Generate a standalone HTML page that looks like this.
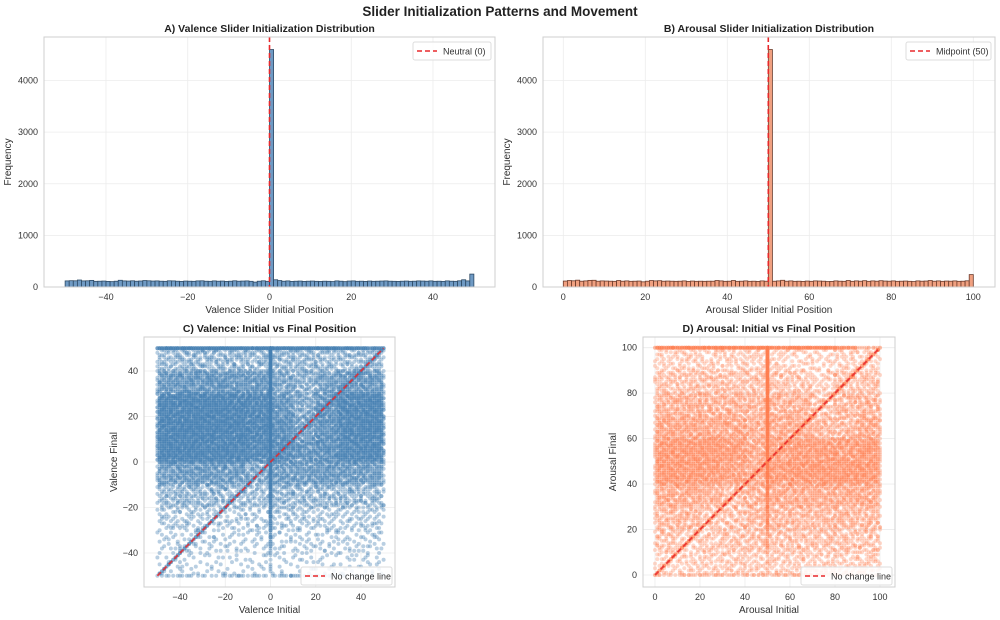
<!DOCTYPE html>
<html><head><meta charset="utf-8"><style>
body{margin:0;background:#fff}
svg{display:block;font-family:"Liberation Sans",Arial,sans-serif}
</style></head><body>
<svg id="fig" width="1000" height="620" viewBox="0 0 1000 620">
<text x="500" y="16" text-anchor="middle" font-size="13.5" font-weight="bold" fill="#222">Slider Initialization Patterns and Movement</text>
</svg>
<script>
// ---- Data ----
const histA = [118,122,120,135,118,120,128,110,112,115,108,104,112,130,118,115,120,112,116,125,120,115,118,112,110,120,118,112,108,115,112,110,118,120,112,110,118,112,115,108,112,120,112,115,118,110,95,112,120,110,
4600,140,125,112,118,108,112,115,108,112,115,110,108,112,110,105,118,112,104,115,118,110,112,108,115,110,112,115,118,112,110,108,112,115,110,112,118,115,112,118,110,112,108,118,112,110,120,140,118,250];
const histB = [115,125,120,132,112,118,128,130,112,118,115,112,110,125,112,118,110,112,115,100,112,125,118,122,112,115,112,110,112,118,108,115,110,112,110,112,112,125,118,110,112,125,110,112,118,110,112,108,118,112,
4600,112,118,130,112,118,110,112,108,115,110,118,115,112,105,108,118,112,110,125,110,118,112,122,110,118,112,122,115,112,118,110,112,115,110,105,118,112,115,125,112,118,110,115,112,118,110,112,120,240];
const yTicksHist = [0,1000,2000,3000,4000];
const xTicksA = [-40,-20,0,20,40];
const xTicksB = [0,20,40,60,80,100];
// scatter densities: rows from top (highest final) to bottom, 10 columns of initial
const densC = [
 [55,60,60,58,55,60,60,55,50,55],
 [120,130,130,125,120,90,70,100,125,125],
 [210,220,220,210,190,130,80,140,200,210],
 [220,225,220,220,200,150,100,140,200,210],
 [220,220,210,210,180,170,130,150,190,200],
 [110,115,120,110,70,110,110,120,115,110],
 [55,60,58,50,45,60,55,60,60,55],
 [30,30,25,25,25,30,30,28,30,30],
 [18,20,18,18,15,20,18,20,20,22],
 [12,14,12,12,12,12,14,12,14,15]];
const topLineC = [40,40,40,40,40,40,40,40,35,30];
const botLineC = [5,6,4,8,6,8,6,5,4,3];
const colC = 500, diagC = 260;
const densD = [
 [35,40,35,35,40,30,30,25,35,35],
 [55,55,60,55,55,55,50,35,55,55],
 [80,85,80,80,75,80,80,50,70,80],
 [105,105,100,100,85,95,95,70,70,100],
 [145,145,145,135,95,110,135,135,130,140],
 [145,145,135,120,95,135,145,145,145,145],
 [95,95,85,60,80,95,95,95,95,95],
 [70,70,45,55,70,70,70,70,70,70],
 [55,40,45,55,55,55,55,55,55,55],
 [28,35,40,40,40,40,40,40,40,40]];
const topLineD = [35,40,40,40,40,35,40,40,25,10];
const botLineD = [6,8,8,8,8,8,10,6,4,2];
const colD = 450, diagD = 300;
const yTicksC = [-40,-20,0,20,40], xTicksC = [-40,-20,0,20,40];
const ticksD = [0,20,40,60,80,100];

// ---- helpers ----
const svg = document.getElementById('fig');
const NS = 'http://www.w3.org/2000/svg';
function mk(tag, attrs, parent){const e=document.createElementNS(NS,tag);for(const k in attrs)e.setAttribute(k,attrs[k]);(parent||svg).appendChild(e);return e;}
function halton(i,b){let f=1,r=0;while(i>0){f/=b;r+=f*(i%b);i=Math.floor(i/b);}return r;}

function axesFrame(g,L,T,R,B,title,xlabel,ylabel,xs,ys,xt,yt,name){
  mk('rect',{x:L,y:T,width:R-L,height:B-T,fill:'#fff',stroke:'none'},g);
  xt.forEach(v=>{const l=mk('line',{x1:xs(v),x2:xs(v),y1:T,y2:B,stroke:'#ececec','stroke-width':0.8},g);
    
    const t=mk('text',{x:xs(v),y:B+13,'text-anchor':'middle','font-size':9,fill:'#333'},g);t.textContent=v<0?'−'+(-v):v;
    });
  yt.forEach(v=>{const l=mk('line',{x1:L,x2:R,y1:ys(v),y2:ys(v),stroke:'#ececec','stroke-width':0.8},g);
    
    const t=mk('text',{x:L-6,y:ys(v)+3,'text-anchor':'end','font-size':9,fill:'#333'},g);t.textContent=v<0?'−'+(-v):v;
    });
  const tt=mk('text',{x:(L+R)/2,y:T-5,'text-anchor':'middle','font-size':10.5,'font-weight':'bold',fill:'#222'},g);tt.textContent=title;
  
  const xl=mk('text',{x:(L+R)/2,y:B+26,'text-anchor':'middle','font-size':10,fill:'#333'},g);xl.textContent=xlabel;
  
  const yx=ylabel.x, yl=mk('text',{x:yx,y:(T+B)/2,'text-anchor':'middle','font-size':10,fill:'#333',transform:`rotate(-90 ${yx} ${(T+B)/2})`},g);yl.textContent=ylabel.t;
  
}
function frameBorder(g,L,T,R,B){const r=mk('rect',{x:L,y:T,width:R-L,height:B-T,fill:'none',stroke:'#cfcfcf','stroke-width':1},g);
  }
function legend(g,x,y,w,label){const lg=mk('g',{},g);
  
  mk('rect',{x:x,y:y,width:w,height:18,fill:'#fff','fill-opacity':0.85,stroke:'#ddd',rx:2},lg);
  mk('line',{x1:x+4,x2:x+24,y1:y+9,y2:y+9,stroke:'#e8282b','stroke-width':1.6,'stroke-dasharray':'5,3'},lg);
  const t=mk('text',{x:x+30,y:y+12.5,'font-size':9,fill:'#333'},lg);t.textContent=label;
  }

// ---- Histogram panels ----
function histPanel(vals,lo,L,T,R,B,x0px,x1px,x0,x1,fill,edge,xt,title,xlabel,refV,leg,legW,name){
  const g=mk('g',{});
  const xs=v=>x0px+(v-x0)*(x1px-x0px)/(x1-x0);
  const ys=v=>287-v*(287-80.5)/4000;
  axesFrame(g,L,T,R,B,title,xlabel,{x:L-33,t:'Frequency'},xs,ys,xt,yTicksHist,name);
  vals.forEach((v,i)=>{const b=mk('rect',{x:xs(lo+i),y:ys(v),width:xs(lo+i+1)-xs(lo+i),height:ys(0)-ys(v),fill:fill,stroke:edge,'stroke-width':0.8},g);
    });
  const rl=mk('line',{x1:xs(refV),x2:xs(refV),y1:T,y2:B,stroke:'#e8282b','stroke-width':1.6,'stroke-dasharray':'5,3'},g);
  
  frameBorder(g,L,T,R,B);
  legend(g,R-legW-4,T+5,legW,leg);
}
histPanel(histA,-50,44,37,495,287,106,433,-40,40,'#6f9ac4','#2d4a66',xTicksA,'A) Valence Slider Initialization Distribution','Valence Slider Initial Position',0,'Neutral (0)',78,'panel-a-valence-histogram');
histPanel(histB,0,543,37,995,287,563.3,973.3,0,100,'#f0a080','#6b3a2a',xTicksB,'B) Arousal Slider Initialization Distribution','Arousal Slider Initial Position',50,'Midpoint (50)',85,'panel-b-arousal-histogram');

// ---- Scatter panels ----
function scatterPanel(dens,topL,botL,colN,diagN,lo,hi,mid,L,T,R,B,xs,ys,xt,yt,color,op,title,xl,yl,name,seed){
  const g=mk('g',{});
  axesFrame(g,L,T,R,B,title,xl,{x:L-27,t:yl},xs,ys,xt,yt,name);
  const pts=mk('g',{fill:color,'fill-opacity':op},g);
  
  const span=(hi-lo)/10;let k=seed;
  const dot=(x,y)=>{mk('circle',{cx:xs(x).toFixed(1),cy:ys(y).toFixed(1),r:2},pts);};
  dens.forEach((row,ri)=>row.forEach((n,ci)=>{
    const yTop=hi-ri*span, xL=lo+ci*span;
    for(let i=0;i<n;i++){k++;const x=Math.round(xL+halton(k,2)*span), y=Math.round(yTop-halton(k,3)*span);dot(x,y);}
  }));
  topL.forEach((n,ci)=>{for(let i=0;i<n;i++){k++;dot(Math.round(lo+ci*span+halton(k,2)*span),hi);}});
  botL.forEach((n,ci)=>{for(let i=0;i<n;i++){k++;dot(Math.round(lo+ci*span+halton(k,2)*span),lo);}});
  for(let i=0;i<colN;i++){k++;const h=halton(k,3);dot(mid,Math.round(lo+(hi-lo)*Math.sqrt(h)));}
  for(let i=0;i<diagN;i++){k++;const v=Math.round(lo+(hi-lo)*halton(k,2));dot(v,v);}
  const dl=mk('line',{x1:xs(lo),y1:ys(lo),x2:xs(hi),y2:ys(hi),stroke:'#e8282b','stroke-width':1.8,'stroke-dasharray':'5,3','stroke-opacity':0.85},g);
  
  frameBorder(g,L,T,R,B);
  legend(g,R-94,B-20,91,'No change line');
}
scatterPanel(densC,topLineC,botLineC,colC,diagC,-50,50,0,144,337,395,587,
  v=>270.5+v*(361-180)/80, v=>462-v*(553-371)/80, xTicksC,yTicksC,'#4682b4',0.38,
  'C) Valence: Initial vs Final Position','Valence Initial','Valence Final','panel-c-valence-scatter',1);
scatterPanel(densD,topLineD,botLineD,colD,diagD,0,100,50,643,337,895,587,
  v=>655+v*(880-655)/100, v=>575-v*(575-347.7)/100, ticksD,ticksD,'#ff7f50',0.3,
  'D) Arousal: Initial vs Final Position','Arousal Initial','Arousal Final','panel-d-arousal-scatter',7);
</script>
</body></html>
